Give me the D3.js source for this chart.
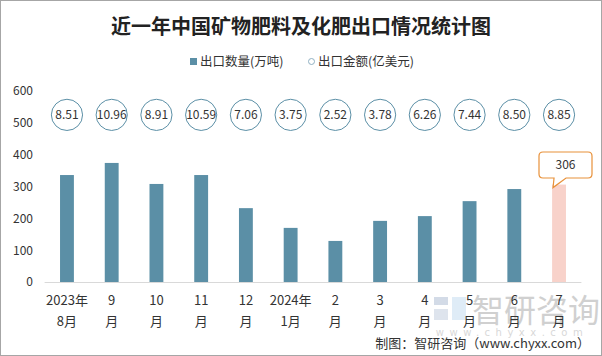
<!DOCTYPE html>
<html><head><meta charset="utf-8">
<script src="https://cdn.jsdelivr.net/npm/d3@7"></script>
<style>body{margin:0;background:#fff}svg{display:block}</style>
</head><body><svg id="c" width="602" height="356"></svg>
<script>
const categoriesTop = ["2023年","9","10","11","12","2024年","2","3","4","5","6","7"];
const categoriesBottom = ["8月","月","月","月","月","1月","月","月","月","月","月","月"];
const volume = [336,374,308,336,232,170,129,192,207,254,292,306];
const amount = ["8.51","10.96","8.91","10.59","7.06","3.75","2.52","3.78","6.26","7.44","8.50","8.85"];
const yTicks = [0,100,200,300,400,500,600];
const seriesNames = ["出口数量(万吨)","出口金额(亿美元)"];
const title = "近一年中国矿物肥料及化肥出口情况统计图";
const source = "制图：智研咨询（www.chyxx.com）";

const svg = d3.select("#c");
const font = "'Noto Sans CJK SC','Microsoft YaHei',sans-serif";
const barColor = "#5b8fa6", hiColor = "#f8d2ca", txt = "#333";

svg.append("rect").attr("x",0.5).attr("y",0.5).attr("width",601).attr("height",355)
  .attr("fill","#fff").attr("stroke","#a6a6a6");

const x = d3.scaleBand().domain(d3.range(volume.length)).range([44.6,581.4]).paddingInner(0.69).paddingOuter(0.345);
const y = d3.scaleLinear().domain([0,600]).range([282,91]);

// watermark
const wm = svg.append("g").attr("opacity",0.45);
wm.append("rect").attr("x",434).attr("y",297).attr("width",14).attr("height",8).attr("fill","#9fb1cc");
wm.append("rect").attr("x",434).attr("y",309).attr("width",14).attr("height",11).attr("fill","#b8c4d8");
wm.append("rect").attr("x",452).attr("y",297).attr("width",14).attr("height",23).attr("fill","#b9d6ee");
wm.append("text").attr("x",536).attr("y",322).attr("text-anchor","middle").attr("font-family",font)
  .attr("font-size",32).attr("fill","#999").text("智研咨询");
wm.append("text").attr("x",512).attr("y",336).attr("text-anchor","middle").attr("font-family","'DejaVu Sans',sans-serif")
  .attr("font-size",10).attr("letter-spacing",5.5).attr("fill","#aaa").text("www.chyxx.com");

// title
svg.append("text").attr("x",301).attr("y",34).attr("text-anchor","middle").attr("font-family",font)
  .attr("font-weight","bold").attr("font-size",20).attr("fill","#222").text(title);

// legend
svg.append("rect").attr("x",190).attr("y",58).attr("width",7).attr("height",7).attr("fill",barColor);
svg.append("text").attr("x",200).attr("y",66).attr("font-family",font).attr("font-size",12.5).attr("fill",txt).text(seriesNames[0]);
svg.append("circle").attr("cx",311.5).attr("cy",61.5).attr("r",3).attr("fill","none").attr("stroke","#8fb0c2").attr("stroke-width",1);
svg.append("text").attr("x",318).attr("y",66).attr("font-family",font).attr("font-size",12.5).attr("fill",txt).text(seriesNames[1]);

// y axis
const ya = svg.append("g").attr("transform","translate(44,0)")
  .call(d3.axisLeft(y).tickValues(yTicks).tickSize(0).tickPadding(11));
ya.select(".domain").remove();
ya.selectAll("text").attr("font-family",font).attr("font-size",12).attr("fill",txt);

// baseline
svg.append("line").attr("x1",44.6).attr("x2",581.4).attr("y1",282.5).attr("y2",282.5).attr("stroke","#d9d9d9");

// bars
svg.append("g").selectAll("rect").data(volume).join("rect")
  .attr("x",(d,i)=>x(i)).attr("width",x.bandwidth())
  .attr("y",d=>y(d)).attr("height",d=>y(0)-y(d))
  .attr("fill",(d,i)=>i===volume.length-1?hiColor:barColor);

// circles
const cg = svg.append("g").selectAll("g").data(amount).join("g")
  .attr("transform",(d,i)=>`translate(${x(i)+x.bandwidth()/2},${y(525)})`);
cg.append("circle").attr("r",15.6).attr("fill","#fff").attr("stroke",barColor).attr("stroke-width",1);
cg.append("text").attr("text-anchor","middle").attr("dy","0.36em").attr("font-family",font)
  .attr("font-size",12).attr("fill",txt).text(d=>d);

// callout
const li = volume.length-1;
const cx = x(li)+x.bandwidth()/2;
const ty = y(volume[li]) + 3;
const bx0 = 539, bx1 = 592, by0 = 152, by1 = 178, r = 4;
const px0 = cx-5, px1 = cx+7, tipx = cx-6;
const path = `M${bx0+r},${by0} H${bx1-r} Q${bx1},${by0} ${bx1},${by0+r} V${by1-r} Q${bx1},${by1} ${bx1-r},${by1}
 H${px1} L${tipx},${ty} L${px0},${by1} H${bx0+r} Q${bx0},${by1} ${bx0},${by1-r} V${by0+r} Q${bx0},${by0} ${bx0+r},${by0} Z`;
svg.append("path").attr("d",path).attr("fill","#fff").attr("stroke","#e8913a").attr("stroke-width",1.2);
svg.append("text").attr("x",(bx0+bx1)/2).attr("y",(by0+by1)/2).attr("dy","0.36em").attr("text-anchor","middle")
  .attr("font-family",font).attr("font-size",12).attr("fill",txt).text(volume[li]);

// x labels
const xl = svg.append("g").selectAll("g").data(categoriesTop).join("g")
  .attr("transform",(d,i)=>`translate(${x(i)+x.bandwidth()/2},0)`);
xl.append("text").attr("y",305).attr("text-anchor","middle").attr("font-family",font).attr("font-size",13).attr("fill",txt).text(d=>d);
xl.append("text").attr("y",326).attr("text-anchor","middle").attr("font-family",font).attr("font-size",13).attr("fill",txt).text((d,i)=>categoriesBottom[i]);

// source
svg.append("text").attr("x",590).attr("y",348).attr("text-anchor","end").attr("font-family",font)
  .attr("font-size",13).attr("fill",txt).text(source);
</script></body></html>
